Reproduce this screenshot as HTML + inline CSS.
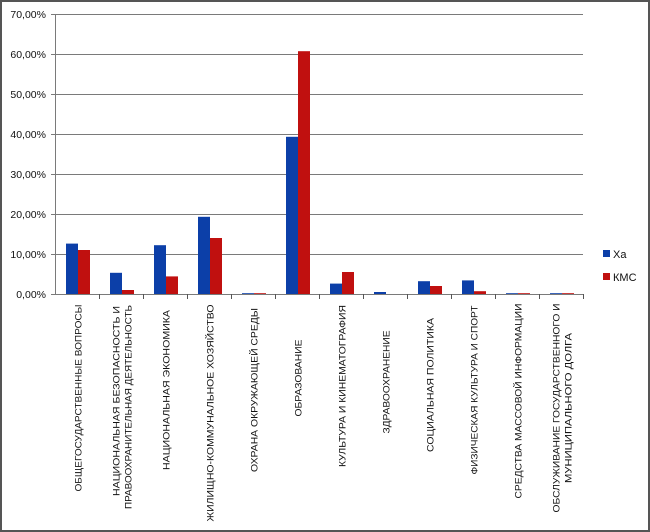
<!DOCTYPE html>
<html><head><meta charset="utf-8"><style>
html,body{margin:0;padding:0;background:#fff}
svg{display:block}
text{font-family:"Liberation Sans","DejaVu Sans",sans-serif;fill:#111}
</style></head><body>
<svg width="650" height="532" viewBox="0 0 650 532" xmlns="http://www.w3.org/2000/svg">
<rect x="1" y="1" width="648" height="530" fill="#fff" stroke="#555" stroke-width="2"/>
<g stroke="#7a7a7a" stroke-width="1">
<line x1="55" y1="14.5" x2="583" y2="14.5"/>
<line x1="55" y1="54.5" x2="583" y2="54.5"/>
<line x1="55" y1="94.5" x2="583" y2="94.5"/>
<line x1="55" y1="134.5" x2="583" y2="134.5"/>
<line x1="55" y1="174.5" x2="583" y2="174.5"/>
<line x1="55" y1="214.5" x2="583" y2="214.5"/>
<line x1="55" y1="254.5" x2="583" y2="254.5"/>
<line x1="55" y1="294.5" x2="583" y2="294.5"/>
<line x1="55.5" y1="14" x2="55.5" y2="294"/>
<line x1="51" y1="14.5" x2="55" y2="14.5"/>
<line x1="51" y1="54.5" x2="55" y2="54.5"/>
<line x1="51" y1="94.5" x2="55" y2="94.5"/>
<line x1="51" y1="134.5" x2="55" y2="134.5"/>
<line x1="51" y1="174.5" x2="55" y2="174.5"/>
<line x1="51" y1="214.5" x2="55" y2="214.5"/>
<line x1="51" y1="254.5" x2="55" y2="254.5"/>
<line x1="51" y1="294.5" x2="55" y2="294.5"/>
</g>
<g stroke="#555">
<line x1="99.5" y1="294" x2="99.5" y2="299"/><line x1="143.5" y1="294" x2="143.5" y2="299"/>
<line x1="187.5" y1="294" x2="187.5" y2="299"/><line x1="231.5" y1="294" x2="231.5" y2="299"/>
<line x1="275.5" y1="294" x2="275.5" y2="299"/><line x1="319.5" y1="294" x2="319.5" y2="299"/>
<line x1="363.5" y1="294" x2="363.5" y2="299"/><line x1="407.5" y1="294" x2="407.5" y2="299"/>
<line x1="451.5" y1="294" x2="451.5" y2="299"/><line x1="495.5" y1="294" x2="495.5" y2="299"/>
<line x1="539.5" y1="294" x2="539.5" y2="299"/><line x1="583.5" y1="294" x2="583.5" y2="299"/>
</g>
<g font-size="10.5" text-anchor="end">
<text x="46" y="18">70,00%</text><text x="46" y="58">60,00%</text><text x="46" y="98">50,00%</text>
<text x="46" y="138">40,00%</text><text x="46" y="178">30,00%</text><text x="46" y="218">20,00%</text>
<text x="46" y="258">10,00%</text><text x="46" y="298">0,00%</text>
</g>
<g fill="#0c3fa8">
<rect x="66" y="243.6" width="12" height="50.4"/>
<rect x="110" y="272.8" width="12" height="21.2"/>
<rect x="154" y="245.2" width="12" height="48.8"/>
<rect x="198" y="216.8" width="12" height="77.2"/>
<rect x="242" y="293.2" width="12" height="0.8"/>
<rect x="286" y="136.8" width="12" height="157.2"/>
<rect x="330" y="283.6" width="12" height="10.4"/>
<rect x="374" y="292" width="12" height="2"/>
<rect x="418" y="281.2" width="12" height="12.8"/>
<rect x="462" y="280.4" width="12" height="13.6"/>
<rect x="506" y="293.2" width="12" height="0.8"/>
<rect x="550" y="293.2" width="12" height="0.8"/>
</g>
<g fill="#c0100f">
<rect x="78" y="250" width="12" height="44"/>
<rect x="122" y="290" width="12" height="4"/>
<rect x="166" y="276.4" width="12" height="17.6"/>
<rect x="210" y="238" width="12" height="56"/>
<rect x="254" y="293.2" width="12" height="0.8"/>
<rect x="298" y="51.2" width="12" height="242.8"/>
<rect x="342" y="272" width="12" height="22"/>
<rect x="430" y="286" width="12" height="8"/>
<rect x="474" y="291.2" width="12" height="2.8"/>
<rect x="518" y="293.2" width="12" height="0.8"/>
<rect x="562" y="293.2" width="12" height="0.8"/>
</g>
<g font-size="9.5" text-anchor="middle" dominant-baseline="central">
<text transform="translate(79,398) rotate(-90)" textLength="187" lengthAdjust="spacingAndGlyphs">ОБЩЕГОСУДАРСТВЕННЫЕ  ВОПРОСЫ</text>
<text transform="translate(117,401) rotate(-90)" textLength="190" lengthAdjust="spacingAndGlyphs">НАЦИОНАЛЬНАЯ  БЕЗОПАСНОСТЬ И</text>
<text transform="translate(129,407) rotate(-90)" textLength="204" lengthAdjust="spacingAndGlyphs">ПРАВООХРАНИТЕЛЬНАЯ  ДЕЯТЕЛЬНОСТЬ</text>
<text transform="translate(167,390) rotate(-90)" textLength="160" lengthAdjust="spacingAndGlyphs">НАЦИОНАЛЬНАЯ  ЭКОНОМИКА</text>
<text transform="translate(211,413) rotate(-90)" textLength="217" lengthAdjust="spacingAndGlyphs">ЖИЛИЩНО-КОММУНАЛЬНОЕ  ХОЗЯЙСТВО</text>
<text transform="translate(255,390) rotate(-90)" textLength="164" lengthAdjust="spacingAndGlyphs">ОХРАНА ОКРУЖАЮЩЕЙ  СРЕДЫ</text>
<text transform="translate(299,378) rotate(-90)" textLength="77" lengthAdjust="spacingAndGlyphs">ОБРАЗОВАНИЕ</text>
<text transform="translate(343,386) rotate(-90)" textLength="162" lengthAdjust="spacingAndGlyphs">КУЛЬТУРА И КИНЕМАТОГРАФИЯ</text>
<text transform="translate(387,382) rotate(-90)" textLength="103" lengthAdjust="spacingAndGlyphs">ЗДРАВООХРАНЕНИЕ</text>
<text transform="translate(431,385) rotate(-90)" textLength="134" lengthAdjust="spacingAndGlyphs">СОЦИАЛЬНАЯ  ПОЛИТИКА</text>
<text transform="translate(475,390) rotate(-90)" textLength="169" lengthAdjust="spacingAndGlyphs">ФИЗИЧЕСКАЯ  КУЛЬТУРА И СПОРТ</text>
<text transform="translate(519,401) rotate(-90)" textLength="195" lengthAdjust="spacingAndGlyphs">СРЕДСТВА  МАССОВОЙ ИНФОРМАЦИИ</text>
<text transform="translate(557,408) rotate(-90)" textLength="209" lengthAdjust="spacingAndGlyphs">ОБСЛУЖИВАНИЕ  ГОСУДАРСТВЕННОГО И</text>
<text transform="translate(569,408) rotate(-90)" textLength="150" lengthAdjust="spacingAndGlyphs">МУНИЦИПАЛЬНОГО  ДОЛГА</text>
</g>
<rect x="603" y="250" width="7" height="7" fill="#0c3fa8"/>
<text x="613" y="258" font-size="11">Ха</text>
<rect x="603" y="273" width="7" height="7" fill="#c0100f"/>
<text x="613" y="281" font-size="11">КМС</text>
</svg>
</body></html>
